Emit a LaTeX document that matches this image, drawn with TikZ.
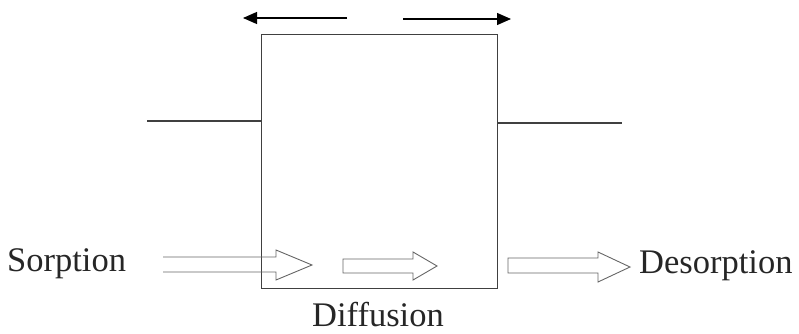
\documentclass[tikz,border=0pt]{standalone}
\usepackage{fontspec}
\setmainfont{Liberation Serif}
\usetikzlibrary{arrows.meta}
\begin{document}
\begin{tikzpicture}[x=1pt,y=-1pt,
  thinline/.style={draw=black!75,line width=1.1pt},
  hollow/.style={draw=black!60,line width=0.9pt,line join=miter},
  flowarrow/.style={draw=black,line width=1.2pt,-{Triangle[length=14pt,width=12pt]}},
  label/.style={font=\fontsize{34.5}{37}\selectfont,text=black!85,inner sep=0pt}]
\useasboundingbox (0,0) rectangle (799,334);
% box
\node[thinline,draw,minimum width=236pt,minimum height=254pt,inner sep=0pt,anchor=north west] (box) at (261,34) {};
% top arrows
\coordinate (la) at (347,18);
\coordinate (lt) at (243,18);
\coordinate (ra) at (403,19);
\coordinate (rt) at (511,19);
\draw[flowarrow] (la) -- (lt);
\draw[flowarrow] (ra) -- (rt);
% side lines
\coordinate (sl) at (147,121);
\coordinate (sr) at (622,123);
\draw[thinline] (sl) -- (sl -| box.west);
\draw[thinline] (sr -| box.east) -- (sr);
% hollow arrows
\draw[hollow] (163,257) -- (276,257) -- (276,250) -- (312,265) -- (276,280) -- (276,272) -- (163,272);
\draw[hollow] (343,259) -- (413,259) -- (413,252) -- (437,266) -- (413,280) -- (413,273) -- (343,273) -- cycle;
\draw[hollow] (508,258) -- (598,258) -- (598,252) -- (630,267) -- (598,282) -- (598,273) -- (508,273) -- cycle;
% labels
\node[label,anchor=west] (sorp) at (7,264) {Sorption};
\node[label] (diff) at (378,315) {Diffusion};
\node[label,anchor=west] (desorp) at (639,266) {Desorption};
\end{tikzpicture}
\end{document}
